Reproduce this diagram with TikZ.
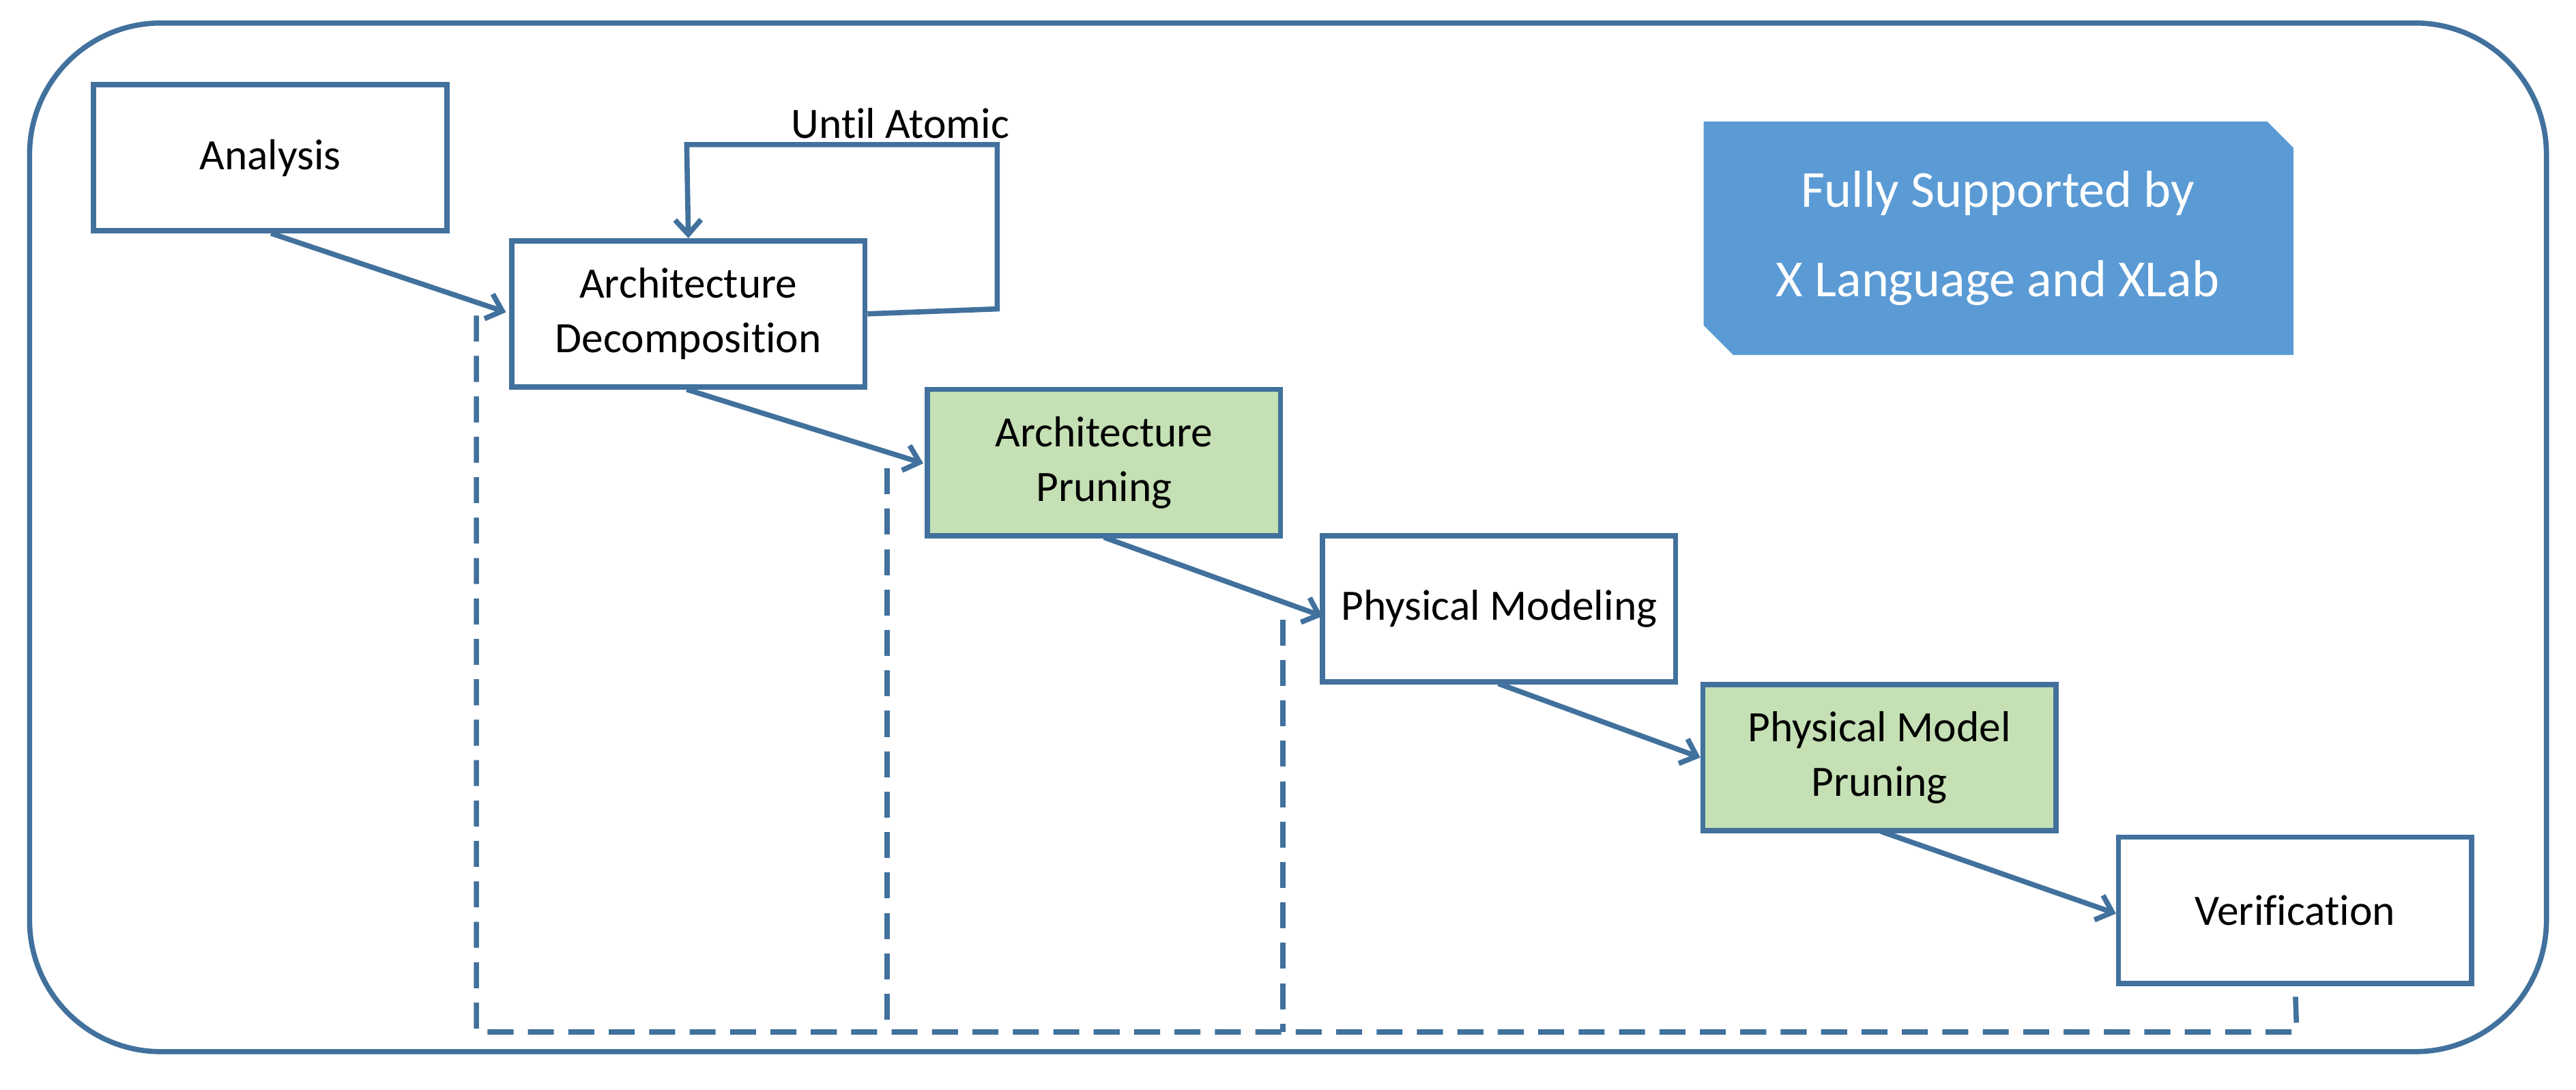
\documentclass[tikz,border=0pt]{standalone}
\usepackage{fontspec}
\setmainfont{Carlito}[RawFeature=-liga]
\usetikzlibrary{arrows.meta}
\definecolor{ln}{HTML}{41719C}
\definecolor{gr}{HTML}{C5E0B4}
\definecolor{bl}{HTML}{5B9BD5}
\begin{document}
\begin{tikzpicture}[x=0.02cm,y=-0.02cm,
  box/.style={draw=ln,line width=1.8pt,fill=white,minimum width=4.3cm,minimum height=1.78cm,align=center,font=\fontsize{15}{19}\selectfont,inner sep=0pt},
  arr/.style={draw=ln,line width=1.8pt,-{Straight Barb[length=5pt,width=9pt]}},
  dsh/.style={draw=ln,line width=1.8pt,dash pattern=on 9pt off 5pt}]
\useasboundingbox (0,0) rectangle (1568,663);
\draw[ln,line width=1.8pt,rounded corners=1.6cm] (18,14) rectangle (1550,640);
\node[box] (an) at (164.5,96) {Analysis};
\node[box] (ad) at (419,191) {Architecture\\Decomposition};
\node[box,fill=gr] (ap) at (672,281.5) {Architecture\\Pruning};
\node[box] (pm) at (912.5,370.5) {Physical Modeling};
\node[box,fill=gr] (pp) at (1144,461) {Physical Model\\Pruning};
\node[box] (ve) at (1397,554) {Verification};
\fill[bl] (1037,74) -- (1380,74) -- (1396,90) -- (1396,216) -- (1055,216) -- (1037,198) -- cycle;
\node[text=white,align=center,font=\fontsize{18}{31}\selectfont] (fs) at (1216,145) {Fully Supported by\\X Language and XLab};
\draw[arr] (165,142) -- (308,190);
\draw[arr] (418,237) -- (562,282);
\draw[arr] (672,327) -- (805,375);
\draw[arr] (912,416) -- (1035,461);
\draw[arr] (1145,506) -- (1288,556);
\draw[arr] (ad.east) -- (607,188) -- (607,88) -- (418,88) -- (ad.north);
\node[font=\fontsize{15}{19}\selectfont] (ua) at (548,75) {Until Atomic};
\draw[dsh] (290,192) -- (290,628) -- (1398,628) -- (ve.south);
\draw[dsh] (540,285) -- (540,628);
\draw[dsh] (781,377) -- (781,628);
\end{tikzpicture}
\end{document}
